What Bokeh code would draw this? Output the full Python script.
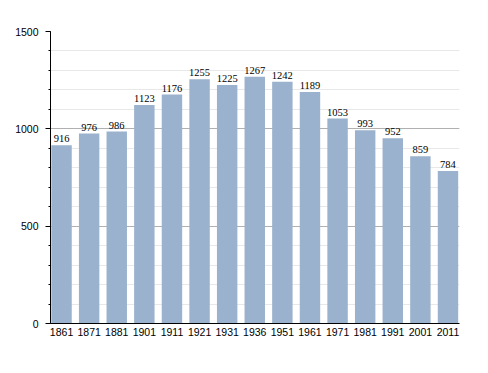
from bokeh.plotting import figure
from bokeh.models import Range1d, FixedTicker, ColumnDataSource, LabelSet
from bokeh.embed import file_html
from bokeh.resources import INLINE

years = ["1861", "1871", "1881", "1901", "1911", "1921", "1931", "1936",
         "1951", "1961", "1971", "1981", "1991", "2001", "2011"]
population = [916, 976, 986, 1123, 1176, 1255, 1225, 1267, 1242, 1189,
              1053, 993, 952, 859, 784]
y_ticks = [0, 500, 1000, 1500]

FONT = "Arial"
FSIZE = "10.5px"

xs = list(range(len(years)))
src = ColumnDataSource(dict(x=xs, y=population, lab=[str(v) for v in population]))

p = figure(width=472, height=357, output_backend="svg", toolbar_location=None,
           x_range=Range1d(-0.4, len(years) - 1 + 0.417), y_range=Range1d(0, 1500),
           min_border_left=50, min_border_right=13, min_border_top=31, min_border_bottom=34)
p.outline_line_color = None
p.background_fill_color = "white"
p.border_fill_color = "white"

p.vbar(x="x", top="y", width=0.74, bottom=0, source=src,
       fill_color="#9ab2cd", line_color=None)

labels = LabelSet(x="x", y="y", text="lab", source=src, text_align="center",
                  text_baseline="bottom", y_offset=3, text_font=FONT,
                  text_font_size=FSIZE, text_color="#000000")
p.add_layout(labels)

# x axis
p.xaxis.ticker = FixedTicker(ticks=xs)
p.xaxis.major_label_overrides = {i: y for i, y in enumerate(years)}
p.xaxis.major_tick_out = 0
p.xaxis.major_tick_in = 0
p.xaxis.minor_tick_out = 0
p.xaxis.minor_tick_in = 0
p.xaxis.major_label_standoff = 4
p.xaxis.axis_line_color = "#000000"
p.xaxis.major_label_text_font = FONT
p.xaxis.major_label_text_font_size = FSIZE
p.xaxis.major_label_text_color = "#000000"
p.xgrid.grid_line_color = None

# y axis
p.yaxis.ticker = FixedTicker(ticks=y_ticks, minor_ticks=list(range(0, 1501, 100)))
p.yaxis.major_tick_out = 5
p.yaxis.major_tick_in = 0
p.yaxis.minor_tick_out = 2
p.yaxis.minor_tick_in = 0
p.yaxis.major_label_standoff = 7
p.yaxis.axis_line_color = "#000000"
p.yaxis.major_tick_line_color = "#000000"
p.yaxis.minor_tick_line_color = "#000000"
p.yaxis.major_label_text_font = FONT
p.yaxis.major_label_text_font_size = FSIZE
p.yaxis.major_label_text_color = "#000000"
p.ygrid.grid_line_color = "#b0b0b0"
p.ygrid.minor_grid_line_color = "#e8e8e8"
p.ygrid.level = "underlay"

open("out.html", "w").write(file_html(p, INLINE))
